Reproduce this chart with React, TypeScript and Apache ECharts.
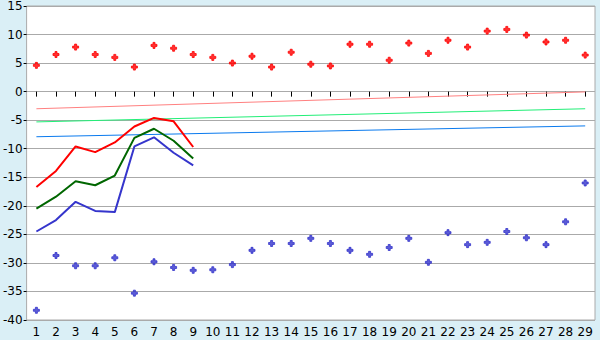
import React, { useEffect, useRef } from "react";
import * as echarts from "echarts";

const categories = Array.from({ length: 29 }, (_, i) => String(i + 1));

const redLine = [-16.7, -13.9, -9.6, -10.6, -8.9, -6.1, -4.6, -5.2, -9.7];
const greenLine = [-20.5, -18.4, -15.7, -16.4, -14.7, -8.1, -6.5, -8.6, -11.7];
const blueLine = [-24.5, -22.5, -19.3, -20.9, -21.1, -9.6, -8.0, -10.7, -12.9];

const redPoints = [
  4.6, 6.5, 7.8, 6.5, 6.0, 4.3, 8.1, 7.6, 6.5, 6.0, 5.0, 6.2, 4.3, 6.9, 4.8,
  4.5, 8.3, 8.3, 5.5, 8.5, 6.7, 9.0, 7.8, 10.6, 10.9, 9.9, 8.7, 9.0, 6.4,
];
const bluePoints = [
  -38.3, -28.7, -30.5, -30.5, -29.1, -35.3, -29.8, -30.8, -31.3, -31.2, -30.3,
  -27.8, -26.6, -26.6, -25.7, -26.6, -27.8, -28.5, -27.3, -25.7, -29.9, -24.7,
  -26.8, -26.4, -24.5, -25.6, -26.8, -22.8, -16.0,
];

// trend lines: [start value at day 1, end value at day 29]
const pinkTrend = [-3.0, -0.05];
const lightGreenTrend = [-5.3, -3.0];
const lightBlueTrend = [-7.9, -6.0];

const yTicks = { min: -40, max: 15, interval: 5 };

const marker = "path://M2,0H4V2H6V4H4V6H2V4H0V2H2Z";
const font = "DejaVu Sans";

export default function App() {
  const ref = useRef<HTMLDivElement>(null);
  useEffect(() => {
    document.body.style.margin = "0";
    if (!ref.current) return;
    const chart = echarts.init(ref.current, undefined, { renderer: "svg" });
    const last = categories.length - 1;
    const trend = (d: number[], color: string) => ({
      type: "line",
      data: [
        [0, d[0]],
        [last, d[1]],
      ],
      symbol: "none",
      lineStyle: { color, width: 1 },
      silent: true,
    });
    const thick = (d: number[], color: string) => ({
      type: "line",
      data: d,
      symbol: "none",
      lineStyle: { color, width: 2 },
    });
    const pts = (d: number[], color: string) => ({
      type: "scatter",
      data: d,
      symbol: marker,
      symbolSize: 6,
      itemStyle: { color, borderColor: color, borderWidth: 1 },
    });
    chart.setOption({
      animation: false,
      backgroundColor: "#daeff6",
      grid: {
        left: 26,
        right: 5,
        top: 5,
        bottom: 20,
        show: true,
        backgroundColor: "#ffffff",
        borderColor: "#aaaaaa",
        borderWidth: 1,
      },
      xAxis: {
        type: "category",
        data: categories,
        boundaryGap: true,
        axisLine: { show: false },
        axisTick: {
          show: true,
          alignWithLabel: true,
          length: 5,
          lineStyle: { color: "#000" },
        },
        axisLabel: {
          color: "#000",
          fontFamily: font,
          fontSize: 12,
          margin: 6,
          interval: 0,
        },
        splitLine: { show: false },
      },
      yAxis: {
        type: "value",
        min: yTicks.min,
        max: yTicks.max,
        interval: yTicks.interval,
        axisLine: { show: false },
        axisTick: { show: true, length: 3, lineStyle: { color: "#000" } },
        axisLabel: {
          color: "#000",
          fontFamily: font,
          fontSize: 12,
          margin: 4,
        },
        splitLine: { show: true, lineStyle: { color: "#aaaaaa", width: 1 } },
      },
      series: [
        trend(pinkTrend, "#ff8080"),
        trend(lightGreenTrend, "#22ee77"),
        trend(lightBlueTrend, "#0a7aee"),
        thick(redLine, "#ff0000"),
        thick(greenLine, "#006600"),
        thick(blueLine, "#3535cc"),
        pts(redPoints, "#ff0000"),
        pts(bluePoints, "#3535cc"),
      ],
    });
    return () => chart.dispose();
  }, []);
  return <div ref={ref} style={{ width: 600, height: 340 }} />;
}
